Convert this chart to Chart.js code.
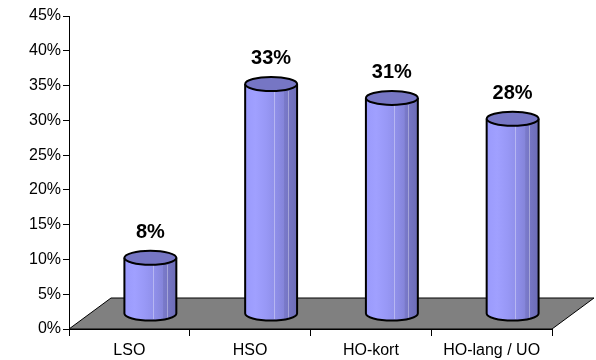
<!DOCTYPE html>
<html>
<head>
<meta charset="utf-8">
<script src="https://cdn.jsdelivr.net/npm/chart.js@4"></script>
<style>
  html, body { margin: 0; padding: 0; background: #fff; }
  #wrap { width: 596px; height: 360px; }
</style>
</head>
<body>
<div id="wrap"><canvas id="myChart" width="596" height="360"></canvas></div>
<script>
const categories = ['LSO', 'HSO', 'HO-kort', 'HO-lang / UO'];
const shares = [8, 33, 31, 28];
const yMax = 45;
const yStep = 5;

// floor depth (3D offset) in pixels
const DEPTH_X = 42;
const DEPTH_Y = 31;

function drawCylinder(ctx, cx, top, base, w, ry) {
  const rx = w / 2;
  const g = ctx.createLinearGradient(cx - rx, 0, cx + rx, 0);
  g.addColorStop(0, '#9a9afc');
  g.addColorStop(0.2, '#a0a0ff');
  g.addColorStop(0.4, '#9898f6');
  g.addColorStop(0.6, '#8e8ee8');
  g.addColorStop(0.74, '#8585da');
  g.addColorStop(0.75, '#7a7aca');
  g.addColorStop(1, '#6c6cb6');

  ctx.save();
  ctx.beginPath();
  ctx.moveTo(cx - rx, top);
  ctx.lineTo(cx - rx, base);
  ctx.ellipse(cx, base, rx, ry, 0, Math.PI, 0, true);
  ctx.lineTo(cx + rx, top);
  ctx.ellipse(cx, top, rx, ry, 0, 0, Math.PI, false);
  ctx.closePath();
  ctx.fillStyle = g;
  ctx.fill();

  // faint facet lines
  ctx.strokeStyle = 'rgba(255,255,255,0.35)';
  ctx.lineWidth = 1;
  [0.55, 0.82].forEach(f => {
    const x = Math.round(cx - rx + w * f) + 0.5;
    ctx.beginPath();
    ctx.moveTo(x, top + ry);
    ctx.lineTo(x, base + ry * 0.8);
    ctx.stroke();
  });

  ctx.beginPath();
  ctx.moveTo(cx - rx, top);
  ctx.lineTo(cx - rx, base);
  ctx.ellipse(cx, base, rx, ry, 0, Math.PI, 0, true);
  ctx.lineTo(cx + rx, top);
  ctx.strokeStyle = '#000';
  ctx.lineWidth = 2;
  ctx.stroke();

  ctx.beginPath();
  ctx.ellipse(cx, top, rx, ry, 0, 0, Math.PI * 2);
  ctx.fillStyle = '#7676c4';
  ctx.fill();
  ctx.stroke();
  ctx.restore();
}

const floorAndCylinders = {
  id: 'floorAndCylinders',
  beforeDatasetsDraw(chart) {
    const { ctx, chartArea, scales } = chart;
    const y0 = scales.y.getPixelForValue(0);
    ctx.save();
    ctx.beginPath();
    ctx.moveTo(chartArea.left, y0);
    ctx.lineTo(chartArea.right, y0);
    ctx.lineTo(chartArea.right + DEPTH_X, y0 - DEPTH_Y);
    ctx.lineTo(chartArea.left + DEPTH_X, y0 - DEPTH_Y);
    ctx.closePath();
    ctx.fillStyle = '#808080';
    ctx.fill();
    ctx.strokeStyle = '#000';
    ctx.lineWidth = 1;
    ctx.stroke();
    ctx.restore();
  },
  afterDatasetsDraw(chart) {
    const { ctx, scales } = chart;
    const meta = chart.getDatasetMeta(0);
    const base = scales.y.getPixelForValue(0) - DEPTH_Y / 2;
    meta.data.forEach((bar, i) => {
      const cx = bar.x + DEPTH_X / 2;
      const top = bar.y - DEPTH_Y / 2;
      drawCylinder(ctx, cx, top, base, bar.width, 7);
      ctx.save();
      ctx.fillStyle = '#000';
      ctx.font = 'bold 20px "Liberation Sans", Arial, sans-serif';
      ctx.textAlign = 'center';
      ctx.textBaseline = 'middle';
      ctx.fillText(shares[i] + '%', cx, top - 25);
      ctx.restore();
    });
  }
};

const tickFont = { family: '"Liberation Sans", Arial, sans-serif', size: 16 };

new Chart(document.getElementById('myChart'), {
  type: 'bar',
  data: {
    labels: categories,
    datasets: [{
      data: shares,
      backgroundColor: 'rgba(0,0,0,0)',
      borderWidth: 0,
      categoryPercentage: 1,
      barPercentage: 0.43
    }]
  },
  options: {
    responsive: false,
    animation: false,
    layout: { padding: { top: 16, right: 44, bottom: 0, left: 0 } },
    plugins: {
      legend: { display: false },
      tooltip: { enabled: false }
    },
    scales: {
      x: {
        grid: {
          offset: true,
          drawOnChartArea: false,
          drawTicks: true,
          tickLength: 7,
          color: '#000'
        },
        border: { color: '#000', width: 1 },
        ticks: { color: '#000', font: tickFont, padding: 5, maxRotation: 0 },
        afterFit(scale) { scale.height = 31; }
      },
      y: {
        min: 0,
        max: yMax,
        grid: {
          drawOnChartArea: false,
          drawTicks: true,
          tickLength: 6,
          color: '#000'
        },
        border: { color: '#000', width: 1 },
        ticks: {
          stepSize: yStep,
          color: '#000',
          font: tickFont,
          padding: 2,
          callback: v => v + '%'
        },
        afterFit(scale) { scale.width = 69; }
      }
    }
  },
  plugins: [floorAndCylinders]
});
</script>
</body>
</html>
